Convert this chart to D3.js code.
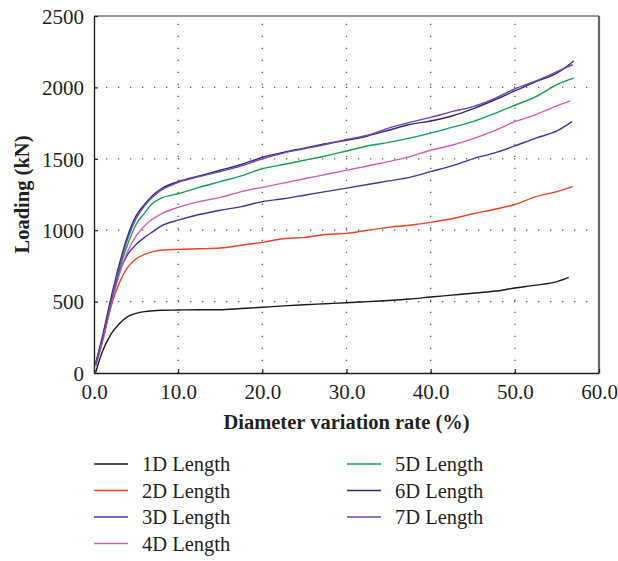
<!DOCTYPE html>
<html>
<head>
<meta charset="utf-8">
<script src="https://cdn.jsdelivr.net/npm/d3@7"></script>
<style>
  body { margin: 0; background: #fff; }
  text { font-family: "Liberation Serif", "Times New Roman", serif; fill: #231f20; }
</style>
</head>
<body>
<script>
// shared x grid (diameter variation rate, %); the last point of each series is in LAST_RATE
const RATE = [0.2, 1, 2, 3, 4, 5, 6, 7, 8, 10, 12.5, 15, 17.5, 20, 22.5, 25, 27.5,
  30, 32.5, 35, 37.5, 40, 42.5, 45, 47.5, 50, 52.5, 55]

const SERIES = ["1D Length", "2D Length", "3D Length", "4D Length", "5D Length", "6D Length", "7D Length"]
const COLORS = ["#1a1a1a", "#f2401f", "#3b36a3", "#d35bb8", "#11a04f", "#2c2a86", "#7442ad"]
const LAST_RATE = [56.4, 56.9, 56.8, 56.6, 57.0, 57.0, 56.9]

const load1D = [5, 150, 270, 345, 395, 418, 430, 436, 439, 441, 443, 443, 452, 460, 470, 478, 485,
  492, 500, 508, 518, 532, 545, 558, 572, 595, 615, 640, 670]
const load2D = [50, 220, 460, 630, 740, 800, 830, 850, 860, 866, 870, 875, 895, 915, 940, 950, 970,
  978, 1000, 1020, 1035, 1055, 1080, 1115, 1145, 1180, 1235, 1270, 1305]
const load3D = [60, 240, 480, 700, 830, 900, 950, 990, 1030, 1070, 1110, 1140, 1165, 1200, 1220, 1245, 1270,
  1295, 1320, 1345, 1370, 1410, 1450, 1500, 1540, 1590, 1645, 1695, 1760]
const load4D = [50, 220, 470, 690, 850, 960, 1030, 1080, 1115, 1160, 1200, 1230, 1270, 1300, 1330, 1360, 1390,
  1420, 1450, 1480, 1515, 1560, 1595, 1640, 1695, 1760, 1810, 1870, 1905]
const load5D = [60, 240, 490, 720, 900, 1040, 1120, 1190, 1225, 1255, 1300, 1340, 1380, 1430, 1460, 1490, 1520,
  1555, 1590, 1615, 1645, 1680, 1720, 1760, 1815, 1875, 1935, 2020, 2065]
const load6D = [70, 255, 520, 760, 960, 1100, 1180, 1245, 1290, 1340, 1380, 1420, 1460, 1510, 1545, 1575, 1605,
  1630, 1660, 1700, 1740, 1765, 1800, 1850, 1910, 1975, 2040, 2100, 2185]
const load7D = [60, 240, 500, 740, 940, 1080, 1170, 1235, 1280, 1335, 1375, 1410, 1450, 1500, 1540, 1570, 1600,
  1635, 1665, 1715, 1755, 1790, 1830, 1865, 1920, 1990, 2045, 2110, 2160]
const LOADS = [load1D, load2D, load3D, load4D, load5D, load6D, load7D]

const X_TICKS = [0, 10, 20, 30, 40, 50, 60]
const Y_TICKS = [0, 500, 1000, 1500, 2000, 2500]

const m = { width: 618, height: 561, left: 94, right: 599, top: 16, bottom: 373 }

const svg = d3.select("body").append("svg")
    .attr("width", m.width)
    .attr("height", m.height)

const x = d3.scaleLinear().domain([0, 60]).range([m.left, m.right])
const y = d3.scaleLinear().domain([0, 2500]).range([m.bottom, m.top])

// dotted grid
const grid = svg.append("g")
grid.selectAll(".vgrid")
  .data(X_TICKS.slice(1, -1))
  .enter().append("line")
    .attr("x1", d => x(d)).attr("x2", d => x(d))
    .attr("y1", m.bottom).attr("y2", m.top)
    .attr("stroke", "#555").attr("stroke-width", 1.3)
    .attr("stroke-dasharray", "1.3,10.7")
grid.selectAll(".hgrid")
  .data(Y_TICKS.slice(1, -1))
  .enter().append("line")
    .attr("y1", d => y(d)).attr("y2", d => y(d))
    .attr("x1", m.left).attr("x2", m.right)
    .attr("stroke", "#555").attr("stroke-width", 1.3)
    .attr("stroke-dasharray", "1.3,10.7")

// frame: top and right
svg.append("line")
  .attr("x1", m.left).attr("x2", m.right).attr("y1", m.top).attr("y2", m.top)
  .attr("stroke", "#333").attr("stroke-width", 1.2)
svg.append("line")
  .attr("x1", m.right).attr("x2", m.right).attr("y1", m.top).attr("y2", m.bottom)
  .attr("stroke", "#666").attr("stroke-width", 2.2)

// axes
const xAxis = svg.append("g")
  .attr("transform", `translate(0,${m.bottom})`)
  .call(d3.axisBottom(x).tickValues(X_TICKS).tickFormat(d3.format(".1f")).tickSizeInner(-4).tickSizeOuter(0).tickPadding(8))
const yAxis = svg.append("g")
  .attr("transform", `translate(${m.left},0)`)
  .call(d3.axisLeft(y).tickValues(Y_TICKS).tickFormat(d3.format("d")).tickSizeInner(-4).tickSizeOuter(0).tickPadding(10))

;[xAxis, yAxis].forEach(a => {
  a.select(".domain").attr("stroke", "#231f20").attr("stroke-width", 1.4)
  a.selectAll(".tick line").attr("stroke", "#231f20").attr("stroke-width", 1.2)
  a.selectAll(".tick text").style("font-family", "'Liberation Serif', serif").style("font-size", "21px").attr("fill", "#231f20")
})
xAxis.selectAll(".tick text").attr("dy", "0.85em")
yAxis.selectAll(".tick text").attr("dy", "0.35em")

// lines
const line = d3.line()
  .x(d => x(d[0]))
  .y(d => y(d[1]))
  .curve(d3.curveMonotoneX)

LOADS.forEach((vals, i) => {
  const pts = vals.map((v, j) => [j < RATE.length ? RATE[j] : LAST_RATE[i], v])
  svg.append("path")
    .datum(pts)
    .attr("fill", "none")
    .attr("stroke", COLORS[i])
    .attr("stroke-width", 1.4)
    .attr("d", line)
})

// axis titles
svg.append("text")
  .attr("x", (m.left + m.right) / 2)
  .attr("y", 429)
  .attr("text-anchor", "middle")
  .style("font-size", "20.5px").style("font-weight", "bold")
  .text("Diameter variation rate (%)")

svg.append("text")
  .attr("transform", `translate(29,${(m.top + m.bottom) / 2}) rotate(-90)`)
  .attr("text-anchor", "middle")
  .style("font-size", "20.5px").style("font-weight", "bold")
  .text("Loading (kN)")

// legend
const legend = svg.append("g")
SERIES.forEach((name, i) => {
  const col = i < 4 ? 0 : 1
  const row = i < 4 ? i : i - 4
  const lx = col === 0 ? 94 : 347
  const ly = 464 + row * 26.5
  legend.append("line")
    .attr("x1", lx).attr("x2", lx + 34)
    .attr("y1", ly).attr("y2", ly)
    .attr("stroke", COLORS[i]).attr("stroke-width", 1.4)
  legend.append("text")
    .attr("x", lx + 48).attr("y", ly)
    .attr("dy", "0.35em")
    .style("font-size", "20.5px")
    .text(name)
})
</script>
</body>
</html>
